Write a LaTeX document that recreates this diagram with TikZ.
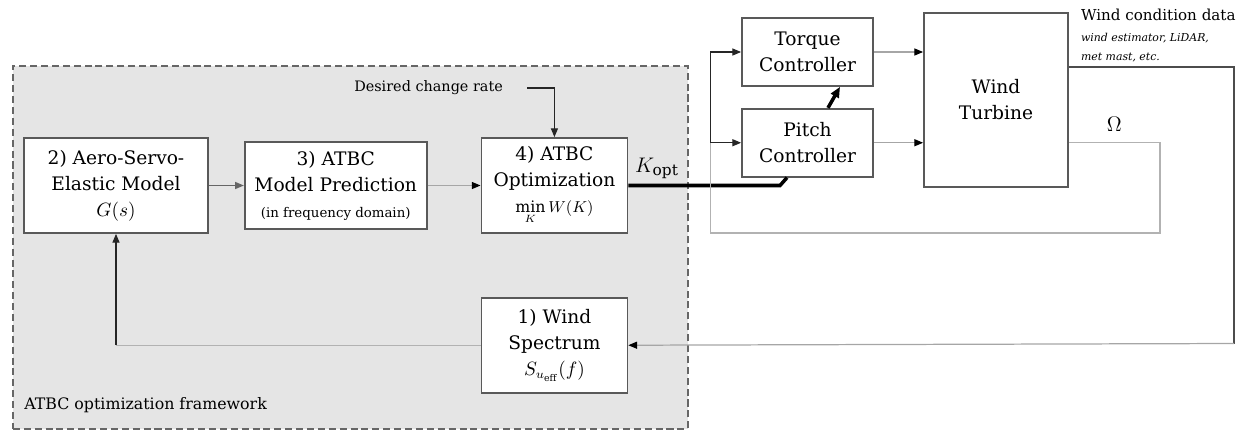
\documentclass[tikz,border=0pt]{standalone}
\usepackage{amsmath,amssymb}
\usepackage{fontspec}
\setmainfont{DejaVu Serif}
\usetikzlibrary{arrows.meta,positioning}
\tikzset{
  block/.style={
    rectangle, draw=black!65, fill=white, line width=1pt,
    minimum width=#1, minimum height=1.9cm, align=center,
    font=\fontsize{10.6}{14.8}\selectfont, inner sep=2pt},
  block/.default=2.92cm,
  frame/.style={draw=black!60, fill=black!10, line width=1pt,
    dash pattern=on 4pt off 2.2pt},
  note/.style={font=\fontsize{8.2}{10}\selectfont, inner sep=1pt},
  sigarrow/.style={-{Triangle[length=5pt,width=4pt]}, line width=0.7pt, draw=black!85},
  grayarrow/.style={-{Triangle[length=5pt,width=4pt,black]}, line width=0.7pt, draw=black!35},
  sigline/.style={line width=0.7pt, draw=black!30},
  gainline/.style={line width=2pt, draw=black},
}

\begin{document}
\begin{tikzpicture}[x=0.02cm, y=-0.02cm]
  \useasboundingbox (0,0) rectangle (1250,430);
  % optimization framework
  \node[frame, anchor=north west, minimum width=13.5cm, minimum height=7.26cm] (fw) at (12,65) {};
  \node[anchor=base west, font=\fontsize{9}{11}\selectfont, inner sep=0pt] (fwlabel)
    at ([shift={(0.24cm,0.4cm)}]fw.south west) {ATBC optimization framework};

  \node[block=3.68cm] (asem) at (116,185.5) {2) Aero-Servo-\\Elastic Model\\$G(s)$};
  \node[block=3.64cm, minimum height=1.74cm, right=0.7cm of asem] (pred)
    {3) ATBC\\Model Prediction\\{\fontsize{7.6}{10}\selectfont (in frequency domain)}};
  \node[block, right=1.06cm of pred] (opt)
    {4) ATBC\\Optimization\\{\fontsize{9}{11}\selectfont $\min\limits_{K} W(K)$}};
  \node[block, below=1.26cm of opt] (spec) {1) Wind\\Spectrum\\$S_{u_{\mathrm{eff}}}(f)$};
  \node[note, anchor=east] (rate) at (505,88) {Desired change rate};
  \node[font=\fontsize{12.5}{15}\selectfont, inner sep=1pt] (kopt) at (657,168) {$K_{\mathrm{opt}}$};

  % turbine side
  \node[block=2.62cm, minimum height=1.36cm] (torque) at (807.5,52) {Torque\\Controller};
  \node[block=2.62cm, minimum height=1.36cm, below=0.42cm of torque] (pitch) {Pitch\\Controller};
  \node[block=2.88cm, minimum height=3.48cm] (turb) at (996,100) {Wind\\Turbine};
  \node[anchor=south west, align=left, inner sep=1pt,
        font=\fontsize{6.2}{10.8}\selectfont\itshape] (wcdata) at (1079,64)
    {{\fontsize{8.6}{12}\selectfont\upshape Wind condition data}\\[1pt]
     wind estimator, LiDAR,\\met mast, etc.};

  \coordinate (tap) at ([xshift=-0.62cm]pitch.west);
  \coordinate (loopr) at (1160,233);
  \coordinate (wcorner) at (1234,343.5);

  \draw[sigarrow, draw=black!60] (asem) -- (pred);
  \draw[grayarrow] (pred) -- (opt);
  \draw[sigarrow] ([xshift=0.44cm]rate.east) -| (opt.north);
  \draw[gainline] (opt.east) -- ([xshift=-0.55cm]pitch.south |- opt.east)
    -- ([xshift=-0.41cm]pitch.south);
  \draw[gainline, -{Triangle[length=6pt,width=5pt]}] ([xshift=0.41cm]pitch.north)
    -- ([xshift=0.65cm]torque.south);
  \draw[grayarrow] (torque.east) -- (torque.east -| turb.west);
  \draw[grayarrow] (pitch.east) -- (pitch.east -| turb.west);
  \draw[sigline] (turb.east |- pitch) -| node[pos=0.25, above=3pt, font=\fontsize{12}{14}\selectfont] (omega) {$\Omega$} (loopr) -| (tap);
  \draw[sigarrow] (tap) -- (pitch.west);
  \draw[sigarrow] (tap) |- (torque.west);
  \draw[line width=0.7pt, draw=black!70] ([yshift=0.66cm]turb.east) -| (wcorner);
  \draw[grayarrow] (wcorner) -- (spec.east);
  \draw[sigline] (spec.west) -- (spec.west -| asem.south) coordinate (ret);
  \draw[sigarrow] (ret) -- (asem.south);
\end{tikzpicture}
\end{document}
